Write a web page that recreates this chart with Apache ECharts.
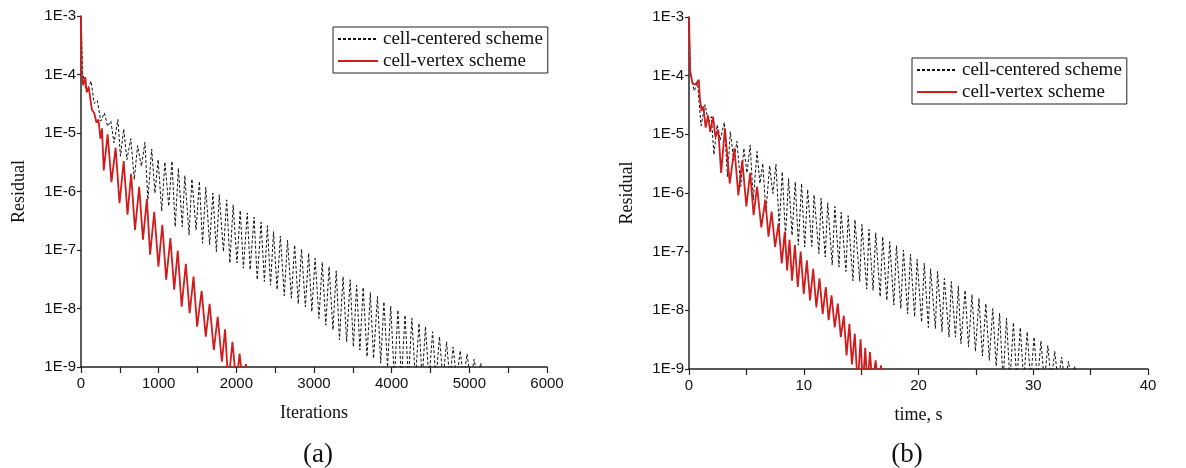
<!DOCTYPE html>
<html>
<head>
<meta charset="utf-8">
<script src="https://cdn.jsdelivr.net/npm/echarts@6/dist/echarts.min.js"></script>
<style>
  html, body { margin: 0; padding: 0; background: #fff; }
  #main { width: 1186px; height: 468px; }
</style>
</head>
<body>
<div id="main"></div>
<script>
// panel (a): residual vs iterations (peaks / troughs)
var ccIter = [
  [0,1e-3],[20,1.1e-4],[70,5e-5],[130,7.7e-5],[170,3.2e-5],[210,3.6e-5],[255,1.6e-5],[301,2.2e-5],
  [343,1.3e-5],[384,1.6e-5],[425,6.8e-6],[475,1.7e-5],[508,4.0e-6],[550,1.17e-5],[591,3.5e-6],[641,8.0e-6],
  [686,1.6e-6],[728,6.1e-6],[778,2.7e-6],[823,6.9e-6],[861,7.2e-7],[910,5.3e-6],[952,9.4e-7],[993,3.5e-6],
  [1039,4.6e-7],[1080,3.2e-6],[1130,5.6e-7],[1171,3.3e-6],[1213,2.5e-7],[1254,2.5e-6],[1304,2.5e-7],[1337,1.87e-6],
  [1391,1.8e-7],[1428,1.64e-6],[1482,2.2e-7],[1524,1.5e-6],[1565,1.3e-7],[1606,1.19e-6],[1656,1.23e-7],[1698,9.4e-7],
  [1743,9.4e-8],[1780,8.8e-7],[1834,9.4e-8],[1876,7.2e-7],[1917,6.0e-8],[1959,5.9e-7],[2008,6.0e-8],[2050,4.75e-7],
  [2091,4.9e-8],[2141,4.3e-7],[2178,4.6e-8],[2228,3.65e-7],[2269,3.1e-8],[2319,3.0e-7],[2361,2.9e-8],[2400,2.6e-7],
  [2440,2.5e-8],[2479,2.06e-7],[2525,2.1e-8],[2567,1.73e-7],[2617,1.66e-8],[2659,1.48e-7],[2709,1.5e-8],[2751,1.22e-7],
  [2797,1.2e-8],[2839,1.04e-7],[2889,1.07e-8],[2931,8.8e-8],[2972,8.8e-9],[3014,7.2e-8],[3064,6.8e-9],[3106,6.2e-8],
  [3152,5.2e-9],[3194,5.2e-8],[3244,4.3e-9],[3286,4.4e-8],[3328,2.9e-9],[3374,3.5e-8],[3420,2.7e-9],[3466,3.1e-8],
  [3507,2.2e-9],[3549,2.5e-8],[3591,1.95e-9],[3633,2.3e-8],[3683,1.5e-9],[3725,1.87e-8],[3767,1.4e-9],[3817,1.6e-8],
  [3859,1.16e-9],[3900,1.3e-8],[3947,1.0e-9],[3988,1.1e-8],[4035,6e-10],[4080,9.4e-9],[4126,6e-10],[4172,7.7e-9],
  [4216,6e-10],[4260,6.8e-9],[4306,6e-10],[4352,5.6e-9],[4393,6e-10],[4435,4.9e-9],[4481,6e-10],[4527,4.0e-9],
  [4571,6e-10],[4615,3.3e-9],[4661,6e-10],[4707,2.7e-9],[4749,6e-10],[4791,2.2e-9],[4837,6e-10],[4883,1.9e-9],
  [4926,6e-10],[4970,1.67e-9],[5016,6e-10],[5062,1.35e-9],[5104,6e-10],[5146,1.16e-9],[5190,6e-10]
];
var cvIter = [
  [0,1e-3],[10,1.0e-4],[30,6.5e-5],[55,9e-5],[75,5e-5],[100,6e-5],[140,2.5e-5],[170,2.2e-5],
  [200,1.5e-5],[225,1.7e-5],[250,8e-6],[270,1.2e-5],[293,2.3e-6],[343,9.5e-6],[392,1.45e-6],[446,5.6e-6],
  [496,6.3e-7],[550,3.3e-6],[599,4.0e-7],[645,2.0e-6],[695,2.2e-7],[749,1.2e-6],[798,1.5e-7],[848,7.4e-7],
  [890,8.3e-8],[943,4.5e-7],[997,5.2e-8],[1047,2.7e-7],[1097,3.1e-8],[1151,1.6e-7],[1200,2.1e-8],[1246,9.8e-8],
  [1296,1.07e-8],[1350,5.8e-8],[1399,8.3e-9],[1449,3.5e-8],[1495,4.9e-9],[1553,2.0e-8],[1606,3.3e-9],[1656,1.2e-8],
  [1710,1.95e-9],[1760,7.2e-9],[1814,1.23e-9],[1855,4.4e-9],[1897,5e-10],[1950,2.7e-9],[2000,5e-10],[2042,1.7e-9],
  [2083,5e-10],[2124,1.12e-9],[2140,5e-10]
];

// panel (b): residual vs time, s
var ccTime = [
  [0,1e-3],[0.12,1.1e-4],[0.45,5.5e-5],[0.75,7.5e-5],[1.05,1.4e-5],[1.4,3.2e-5],[1.7,1.6e-5],[1.95,2.0e-5],
  [2.17,4.5e-6],[2.45,1.45e-5],[2.72,8e-6],[3.08,1.6e-5],[3.35,1.9e-6],[3.6,1.11e-5],[3.9,3.6e-6],[4.18,7.6e-6],
  [4.51,1.3e-6],[4.78,5.8e-6],[5.05,2.2e-6],[5.33,6.6e-6],[5.6,7.6e-7],[5.93,5.1e-6],[6.18,1.45e-6],[6.43,3.2e-6],
  [6.7,4.8e-7],[7.03,2.9e-6],[7.31,9.8e-7],[7.58,3.1e-6],[7.86,2.6e-7],[8.13,2.3e-6],[8.41,1.8e-7],[8.68,1.77e-6],
  [8.98,1.9e-7],[9.26,1.55e-6],[9.53,1.29e-7],[9.81,1.45e-6],[10.08,1.2e-7],[10.34,1.15e-6],[10.70,1.23e-7],[10.90,9.3e-7],
  [11.32,9.3e-8],[11.51,8.1e-7],[11.87,8.1e-8],[12.09,6.8e-7],[12.48,5.9e-8],[12.71,5.9e-7],[13.07,5.5e-8],[13.26,4.7e-7],
  [13.68,4.6e-8],[13.87,4.1e-7],[14.29,3.2e-8],[14.46,3.5e-7],[14.88,3.1e-8],[15.07,2.9e-7],[15.49,2.3e-8],[15.68,2.4e-7],
  [16.04,2.2e-8],[16.27,2.1e-7],[16.66,1.7e-8],[16.88,1.8e-7],[17.24,1.48e-8],[17.49,1.48e-7],[17.85,1.23e-8],[18.08,1.26e-7],
  [18.46,1.07e-8],[18.69,1.07e-7],[19.05,8.7e-9],[19.30,9.1e-8],[19.66,7.8e-9],[19.88,7.4e-8],[20.27,6.3e-9],[20.50,6.3e-8],
  [20.86,5.1e-9],[21.05,5.1e-8],[21.47,4.9e-9],[21.66,4.6e-8],[22.05,4.3e-9],[22.25,3.5e-8],[22.66,3.5e-9],[22.86,3.1e-8],
  [23.22,3.5e-9],[23.47,2.6e-8],[23.70,2.7e-9],[24.06,2.2e-8],[24.36,2.4e-9],[24.66,1.86e-8],[24.96,2.0e-9],[25.27,1.6e-8],
  [25.57,1.66e-9],[25.87,1.3e-8],[26.17,1.4e-9],[26.47,1.07e-8],[26.77,1.12e-9],[27.07,8.9e-9],[27.37,6e-10],[27.67,7.4e-9],
  [27.97,6e-10],[28.27,6.2e-9],[28.57,6e-10],[28.87,5.1e-9],[29.17,6e-10],[29.47,4.3e-9],[29.77,6e-10],[30.07,3.5e-9],
  [30.37,6e-10],[30.67,3.0e-9],[30.97,6e-10],[31.27,2.5e-9],[31.57,6e-10],[31.87,2.0e-9],[32.17,6e-10],[32.47,1.6e-9],
  [32.77,6e-10],[33.07,1.35e-9],[33.35,6e-10],[33.6,1.12e-9],[33.8,6e-10]
];
var cvTime = [
  [0,1e-3],[0.1,1.2e-4],[0.3,7.5e-5],[0.55,7e-5],[0.85,8.5e-5],[0.95,4e-5],[1.1,2.5e-5],[1.25,3e-5],
  [1.45,1.3e-5],[1.65,2.1e-5],[1.85,1.1e-5],[2.1,2.0e-5],[2.3,9e-6],[2.55,1.2e-5],[2.8,2.2e-6],[3.13,1.26e-5],
  [3.55,1.45e-6],[3.96,5.8e-6],[4.3,9.1e-7],[4.64,3.6e-6],[5.0,5.9e-7],[5.33,2.2e-6],[5.63,4.2e-7],[5.93,1.29e-6],
  [6.3,2.6e-7],[6.65,7.6e-7],[6.93,1.8e-7],[7.2,4.8e-7],[7.5,1.2e-7],[7.8,3e-7],[8.08,6.3e-8],[8.35,2.2e-7],
  [8.55,4.8e-8],[8.76,1.6e-7],[8.98,3.2e-8],[9.23,1.3e-7],[9.48,2.5e-8],[9.73,1e-7],[10.0,1.9e-8],[10.27,7.1e-8],
  [10.55,1.48e-8],[10.82,5.1e-8],[11.1,1.12e-8],[11.37,3.5e-8],[11.65,8.7e-9],[11.92,2.5e-8],[12.17,6.8e-9],[12.42,1.8e-8],
  [12.7,5.1e-9],[12.97,1.3e-8],[13.23,3.5e-9],[13.49,8.1e-9],[13.73,1.7e-9],[13.98,5.9e-9],[14.2,1.2e-9],[14.45,4e-9],
  [14.7,5e-10],[14.95,3.2e-9],[15.15,5e-10],[15.36,2.3e-9],[15.55,5e-10],[15.77,1.95e-9],[16.0,5e-10],[16.26,1.4e-9],
  [16.5,5e-10],[16.73,1.15e-9],[16.9,5e-10]
];

var names = ['cell-centered scheme', 'cell-vertex scheme'];
var panelLabels = ['(a)', '(b)'];
var xNames = ['Iterations', 'time, s'];
var xMax = [6000, 40];
var xStep = [1000, 10];

var serif = 'Liberation Serif';
var sans = 'Liberation Sans';
var black = '#111';
var red = '#d01c1c';

var chart = echarts.init(document.getElementById('main'));

var grids = [
  { left: 81, top: 16, width: 466, height: 351 },
  { left: 689, top: 17, width: 459, height: 352 }
];

function xAxisFor(i) {
  return {
    gridIndex: i,
    type: 'value',
    min: 0,
    max: xMax[i],
    interval: xStep[i],
    name: xNames[i],
    nameLocation: 'middle',
    nameGap: 37,
    nameTextStyle: { fontFamily: serif, fontSize: 18, color: black },
    axisLine: { lineStyle: { color: '#222', width: 1.5 } },
    axisTick: { length: 6, lineStyle: { color: '#222', width: 1.2 } },
    minorTick: { show: true, splitNumber: 2, length: 6, lineStyle: { color: '#222', width: 1.2 } },
    splitLine: { show: false },
    axisLabel: {
      fontFamily: sans, fontSize: 15, color: black, margin: 9,
      formatter: function (v) { return String(v); }
    }
  };
}

function yAxisFor(i) {
  return {
    gridIndex: i,
    type: 'log',
    logBase: 10,
    min: 1e-9,
    max: 1e-3,
    splitNumber: 6,
    name: 'Residual',
    nameLocation: 'middle',
    nameGap: 53,
    nameTextStyle: { fontFamily: serif, fontSize: 18, color: black },
    axisLine: { show: true, lineStyle: { color: '#222', width: 1.5 } },
    axisTick: { show: true, length: 4, lineStyle: { color: '#222', width: 1.2 } },
    splitLine: { show: false },
    axisLabel: {
      fontFamily: sans, fontSize: 15, color: black, margin: 5,
      formatter: function (v) { return '1E' + Math.round(Math.log10(v)); }
    }
  };
}

function lineSeries(name, i, data) {
  var isCC = name === names[0];
  return {
    name: name,
    type: 'line',
    xAxisIndex: i,
    yAxisIndex: i,
    data: data,
    symbol: 'none',
    showSymbol: false,
    clip: true,
    z: isCC ? 2 : 3,
    lineStyle: isCC
      ? { color: black, width: 1, type: [3, 2] }
      : { color: red, width: 1.8 },
    itemStyle: { color: isCC ? black : red }
  };
}

function legendFor(left, top) {
  return {
    orient: 'vertical',
    left: left,
    top: top,
    data: names,
    itemWidth: 40,
    itemHeight: 14,
    itemGap: 2,
    padding: [2, 5, 2, 4],
    borderColor: '#222',
    borderWidth: 1,
    selectedMode: false,
    itemStyle: { opacity: 0 },
    textStyle: { fontFamily: serif, fontSize: 19, color: black, lineHeight: 20 }
  };
}

var option = {
  backgroundColor: '#fff',
  animation: false,
  title: [
    { text: panelLabels[0], left: 313, top: 436, textAlign: 'center',
      textStyle: { fontFamily: serif, fontSize: 27, fontWeight: 'normal', color: black } },
    { text: panelLabels[1], left: 902, top: 436, textAlign: 'center',
      textStyle: { fontFamily: serif, fontSize: 27, fontWeight: 'normal', color: black } }
  ],
  legend: [legendFor(333, 27), legendFor(912, 58)],
  grid: grids,
  xAxis: [xAxisFor(0), xAxisFor(1)],
  yAxis: [yAxisFor(0), yAxisFor(1)],
  series: [
    lineSeries(names[0], 0, ccIter),
    lineSeries(names[1], 0, cvIter),
    lineSeries(names[0], 1, ccTime),
    lineSeries(names[1], 1, cvTime)
  ]
};

chart.setOption(option);
</script>
</body>
</html>
